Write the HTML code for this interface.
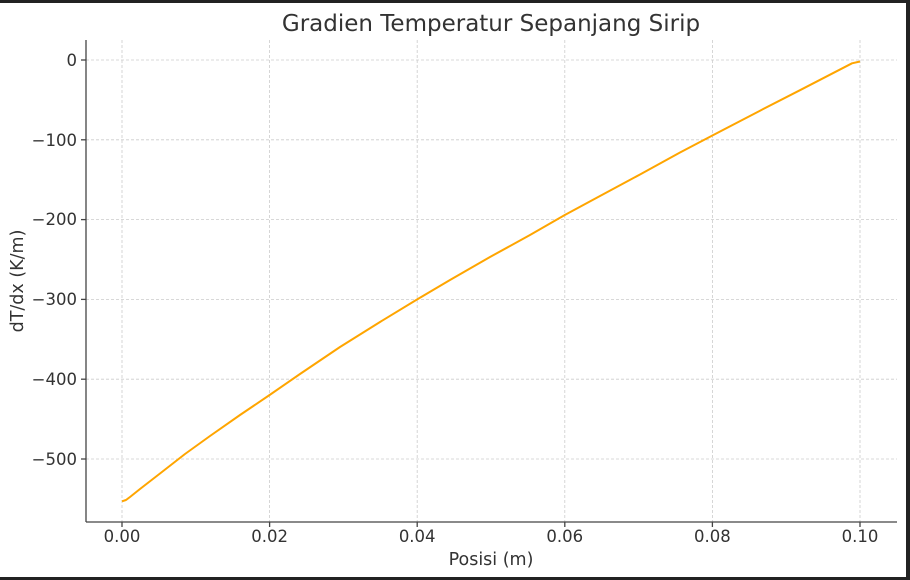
<!DOCTYPE html>
<html><head><meta charset="utf-8"><style>
html,body{margin:0;padding:0;background:#fff}
svg{display:block}
text{font-family:"DejaVu Sans","Liberation Sans",sans-serif;fill:#333}
</style></head><body>
<svg width="910" height="580" viewBox="0 0 910 580">
<rect width="910" height="580" fill="#fff"/>
<rect x="0" y="0" width="910" height="3" fill="#222"/>
<rect x="906" y="0" width="4" height="580" fill="#222"/>
<rect x="0" y="577" width="910" height="3" fill="#222"/>
<g stroke="#ccc" stroke-width="0.8" stroke-dasharray="3,2">
<line x1="122" y1="40" x2="122" y2="522"/><line x1="269.6" y1="40" x2="269.6" y2="522"/><line x1="417.2" y1="40" x2="417.2" y2="522"/><line x1="564.8" y1="40" x2="564.8" y2="522"/><line x1="712.4" y1="40" x2="712.4" y2="522"/><line x1="860" y1="40" x2="860" y2="522"/>
<line x1="86" y1="60" x2="897" y2="60"/><line x1="86" y1="139.8" x2="897" y2="139.8"/><line x1="86" y1="219.6" x2="897" y2="219.6"/><line x1="86" y1="299.4" x2="897" y2="299.4"/><line x1="86" y1="379.2" x2="897" y2="379.2"/><line x1="86" y1="459" x2="897" y2="459"/>
</g>
<g stroke="#444" stroke-width="1.3">
<line x1="86" y1="40" x2="86" y2="522"/><line x1="86" y1="522" x2="897" y2="522"/>
<line x1="81" y1="60" x2="86" y2="60"/><line x1="81" y1="139.8" x2="86" y2="139.8"/><line x1="81" y1="219.6" x2="86" y2="219.6"/><line x1="81" y1="299.4" x2="86" y2="299.4"/><line x1="81" y1="379.2" x2="86" y2="379.2"/><line x1="81" y1="459" x2="86" y2="459"/>
<line x1="122" y1="522" x2="122" y2="527"/><line x1="269.6" y1="522" x2="269.6" y2="527"/><line x1="417.2" y1="522" x2="417.2" y2="527"/><line x1="564.8" y1="522" x2="564.8" y2="527"/><line x1="712.4" y1="522" x2="712.4" y2="527"/><line x1="860" y1="522" x2="860" y2="527"/>
</g>
<polyline fill="none" stroke="#FFA500" stroke-width="2" stroke-linejoin="round" points="122,501.3 126,500 130,497 140,489 160,473.5 185,454 210,436 240,415 269.6,395 300,374 340,347 380,322 417.2,299.4 450,280 490,257 530,235 564.8,215 600,196 640,174.5 680,152.5 712.4,135.5 760,110.7 800,90.2 852,63.3 860,61.5"/>
<g font-size="16.5" text-anchor="end">
<text x="77" y="66">0</text><text x="77" y="146">−100</text><text x="77" y="225">−200</text><text x="77" y="305">−300</text><text x="77" y="385">−400</text><text x="77" y="465">−500</text>
</g>
<g font-size="16.5" text-anchor="middle">
<text x="122" y="542">0.00</text><text x="269.6" y="542">0.02</text><text x="417.2" y="542">0.04</text><text x="564.8" y="542">0.06</text><text x="712.4" y="542">0.08</text><text x="860" y="542">0.10</text>
<text x="491" y="565" font-size="17.5">Posisi (m)</text>
<text x="491" y="31" font-size="23">Gradien Temperatur Sepanjang Sirip</text>
<text transform="translate(23,281) rotate(-90)" font-size="17.5">dT/dx (K/m)</text>
</g>
</svg>
</body></html>
